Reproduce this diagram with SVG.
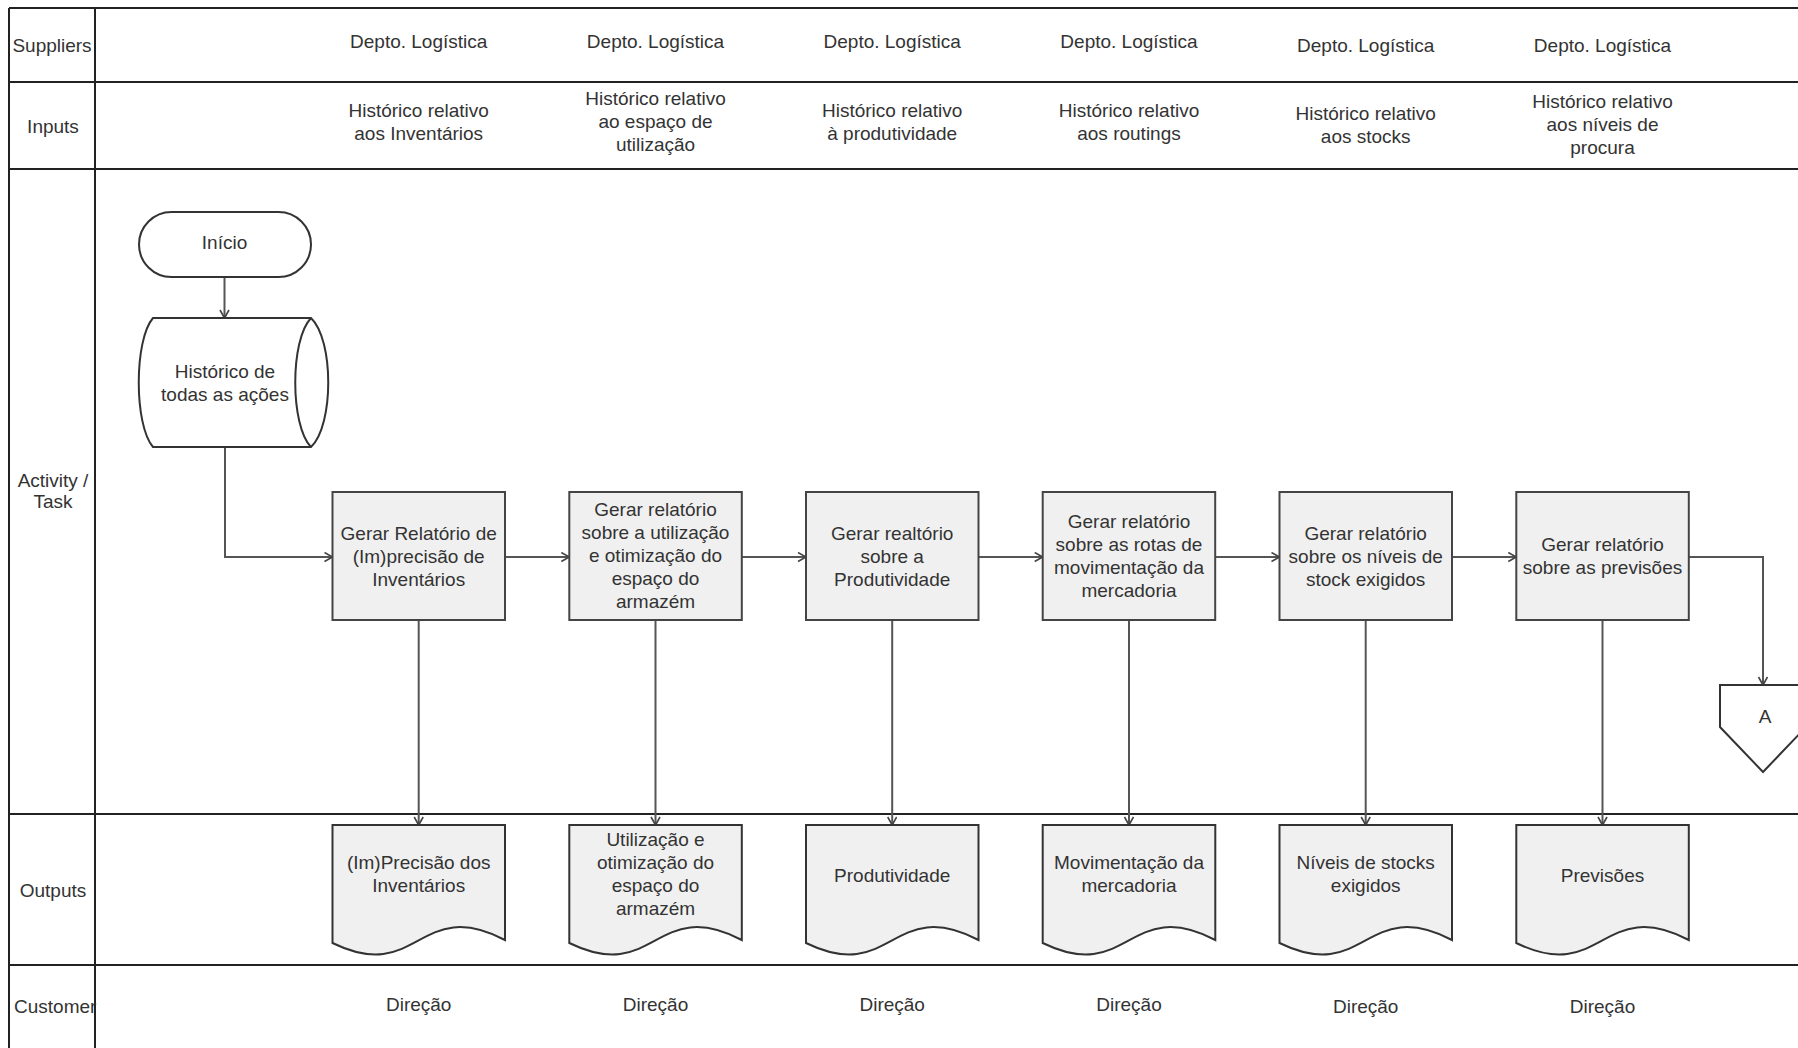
<svg xmlns="http://www.w3.org/2000/svg" width="1798" height="1048" viewBox="0 0 1798 1048">
  <defs>
    <marker id="arrow" markerUnits="userSpaceOnUse" markerWidth="12" markerHeight="12" refX="9" refY="5" orient="auto">
      <path d="M1,0.5 L9,5 L1,9.5" fill="none" stroke="#444" stroke-width="1.6"/>
    </marker>
    <style>
      text { font-family: "Liberation Sans", Arial, sans-serif; font-size: 19px; fill: #333; text-anchor: middle; }
      .grid { stroke: #222; stroke-width: 2; fill: none; }
      .proc { fill: #f0f0f0; stroke: #444; stroke-width: 2; }
      .doc { fill: #f0f0f0; stroke: #333; stroke-width: 2; }
      .shape { fill: #fff; stroke: #333; stroke-width: 2; }
      .conn { fill: none; stroke: #555; stroke-width: 2; marker-end: url(#arrow); }
    </style>
  </defs>

  <rect width="1798" height="1048" fill="#fff"/>

  <!-- swimlane grid -->
  <g id="lanes">
    <line class="grid" x1="9" y1="8" x2="1798" y2="8"/>
    <line class="grid" x1="9" y1="82" x2="1798" y2="82"/>
    <line class="grid" x1="9" y1="169" x2="1798" y2="169" stroke-width="3"/>
    <line class="grid" x1="9" y1="814" x2="1798" y2="814"/>
    <line class="grid" x1="9" y1="965" x2="1798" y2="965"/>
    <line class="grid" x1="9" y1="8" x2="9" y2="1048"/>
    <line class="grid" x1="95" y1="8" x2="95" y2="1048"/>
  </g>

  <!-- lane titles -->
  <g id="lane-titles">
    <text x="52" y="51.5">Suppliers</text>
    <text x="53" y="132.5">Inputs</text>
    <text x="53" y="487">Activity /</text>
    <text x="53" y="508">Task</text>
    <text x="53" y="896.5">Outputs</text>
    <text x="14" y="1013" style="text-anchor:start">Customer</text>
  </g>

  <!-- suppliers -->
  <g id="suppliers">
    <text x="418.7" y="48">Depto. Logística</text>
    <text x="655.5" y="48">Depto. Logística</text>
    <text x="892.2" y="48">Depto. Logística</text>
    <text x="1129" y="48">Depto. Logística</text>
    <text x="1365.7" y="51.5">Depto. Logística</text>
    <text x="1602.5" y="51.5">Depto. Logística</text>
  </g>

  <!-- inputs -->
  <g id="inputs">
    <text x="418.7" y="117">Histórico relativo</text>
    <text x="418.7" y="140">aos Inventários</text>
    <text x="655.5" y="105">Histórico relativo</text>
    <text x="655.5" y="128">ao espaço de</text>
    <text x="655.5" y="151">utilização</text>
    <text x="892.2" y="117">Histórico relativo</text>
    <text x="892.2" y="140">à produtividade</text>
    <text x="1129" y="117">Histórico relativo</text>
    <text x="1129" y="140">aos routings</text>
    <text x="1365.7" y="120">Histórico relativo</text>
    <text x="1365.7" y="143">aos stocks</text>
    <text x="1602.5" y="108">Histórico relativo</text>
    <text x="1602.5" y="131">aos níveis de</text>
    <text x="1602.5" y="154">procura</text>
  </g>

  <!-- connectors -->
  <g id="connectors">
    <path class="conn" d="M224.5,277 V318"/>
    <path class="conn" d="M225,447 V557 H332.5"/>
    <path class="conn" d="M505,557 H569.3"/>
    <path class="conn" d="M741.8,557 H806"/>
    <path class="conn" d="M978.5,557 H1042.7"/>
    <path class="conn" d="M1215.3,557 H1279.5"/>
    <path class="conn" d="M1452,557 H1516.3"/>
    <path class="conn" d="M1688.8,557 H1763 V685"/>
    <path class="conn" d="M418.7,620 V825"/>
    <path class="conn" d="M655.5,620 V825"/>
    <path class="conn" d="M892.2,620 V825"/>
    <path class="conn" d="M1129,620 V825"/>
    <path class="conn" d="M1365.7,620 V825"/>
    <path class="conn" d="M1602.5,620 V825"/>
  </g>

  <!-- start terminal -->
  <g id="inicio">
    <rect class="shape" x="139" y="212" width="172" height="65" rx="32.5" ry="32.5"/>
    <text x="224.5" y="249">Início</text>
  </g>

  <!-- stored data -->
  <g id="historico">
    <path class="shape" d="M153,318 H311 C334,340 334,425 311,447 H153 C134,425 134,340 153,318 Z"/>
    <path class="shape" d="M311,318 C290,340 290,425 311,447"/>
    <text x="225" y="378">Histórico de</text>
    <text x="225" y="401">todas as ações</text>
  </g>

  <!-- process steps -->
  <g id="proc1">
    <rect class="proc" x="332.5" y="492" width="172.5" height="128"/>
    <text x="418.7" y="539.5">Gerar Relatório de</text>
    <text x="418.7" y="562.5">(Im)precisão de</text>
    <text x="418.7" y="585.5">Inventários</text>
  </g>
  <g id="proc2">
    <rect class="proc" x="569.3" y="492" width="172.5" height="128"/>
    <text x="655.5" y="516">Gerar relatório</text>
    <text x="655.5" y="539">sobre a utilização</text>
    <text x="655.5" y="562">e otimização do</text>
    <text x="655.5" y="585">espaço do</text>
    <text x="655.5" y="608">armazém</text>
  </g>
  <g id="proc3">
    <rect class="proc" x="806" y="492" width="172.5" height="128"/>
    <text x="892.2" y="539.5">Gerar realtório</text>
    <text x="892.2" y="562.5">sobre a</text>
    <text x="892.2" y="585.5">Produtividade</text>
  </g>
  <g id="proc4">
    <rect class="proc" x="1042.7" y="492" width="172.5" height="128"/>
    <text x="1129" y="528">Gerar relatório</text>
    <text x="1129" y="551">sobre as rotas de</text>
    <text x="1129" y="574">movimentação da</text>
    <text x="1129" y="597">mercadoria</text>
  </g>
  <g id="proc5">
    <rect class="proc" x="1279.5" y="492" width="172.5" height="128"/>
    <text x="1365.7" y="539.5">Gerar relatório</text>
    <text x="1365.7" y="562.5">sobre os níveis de</text>
    <text x="1365.7" y="585.5">stock exigidos</text>
  </g>
  <g id="proc6">
    <rect class="proc" x="1516.3" y="492" width="172.5" height="128"/>
    <text x="1602.5" y="551">Gerar relatório</text>
    <text x="1602.5" y="574">sobre as previsões</text>
  </g>

  <!-- off-page connector -->
  <g id="offpage-a">
    <path class="shape" d="M1720,685 H1806 V727 L1763,772 L1720,727 Z"/>
    <text x="1765" y="723">A</text>
  </g>

  <!-- output documents -->
  <g id="doc1">
    <path class="doc" d="M332.5,825 H505 V940 C418.7,895 418.7,985 332.5,943 Z"/>
    <text x="418.7" y="868.5">(Im)Precisão dos</text>
    <text x="418.7" y="891.5">Inventários</text>
  </g>
  <g id="doc2">
    <path class="doc" d="M569.3,825 H741.8 V940 C655.5,895 655.5,985 569.3,943 Z"/>
    <text x="655.5" y="845.5">Utilização e</text>
    <text x="655.5" y="868.5">otimização do</text>
    <text x="655.5" y="891.5">espaço do</text>
    <text x="655.5" y="914.5">armazém</text>
  </g>
  <g id="doc3">
    <path class="doc" d="M806,825 H978.5 V940 C892.2,895 892.2,985 806,943 Z"/>
    <text x="892.2" y="881.5">Produtividade</text>
  </g>
  <g id="doc4">
    <path class="doc" d="M1042.7,825 H1215.3 V940 C1129,895 1129,985 1042.7,943 Z"/>
    <text x="1129" y="868.5">Movimentação da</text>
    <text x="1129" y="891.5">mercadoria</text>
  </g>
  <g id="doc5">
    <path class="doc" d="M1279.5,825 H1452 V940 C1365.7,895 1365.7,985 1279.5,943 Z"/>
    <text x="1365.7" y="868.5">Níveis de stocks</text>
    <text x="1365.7" y="891.5">exigidos</text>
  </g>
  <g id="doc6">
    <path class="doc" d="M1516.3,825 H1688.8 V940 C1602.5,895 1602.5,985 1516.3,943 Z"/>
    <text x="1602.5" y="881.5">Previsões</text>
  </g>

  <!-- customers -->
  <g id="customers">
    <text x="418.7" y="1011">Direção</text>
    <text x="655.5" y="1011">Direção</text>
    <text x="892.2" y="1011">Direção</text>
    <text x="1129" y="1011">Direção</text>
    <text x="1365.7" y="1013">Direção</text>
    <text x="1602.5" y="1013">Direção</text>
  </g>
</svg>
